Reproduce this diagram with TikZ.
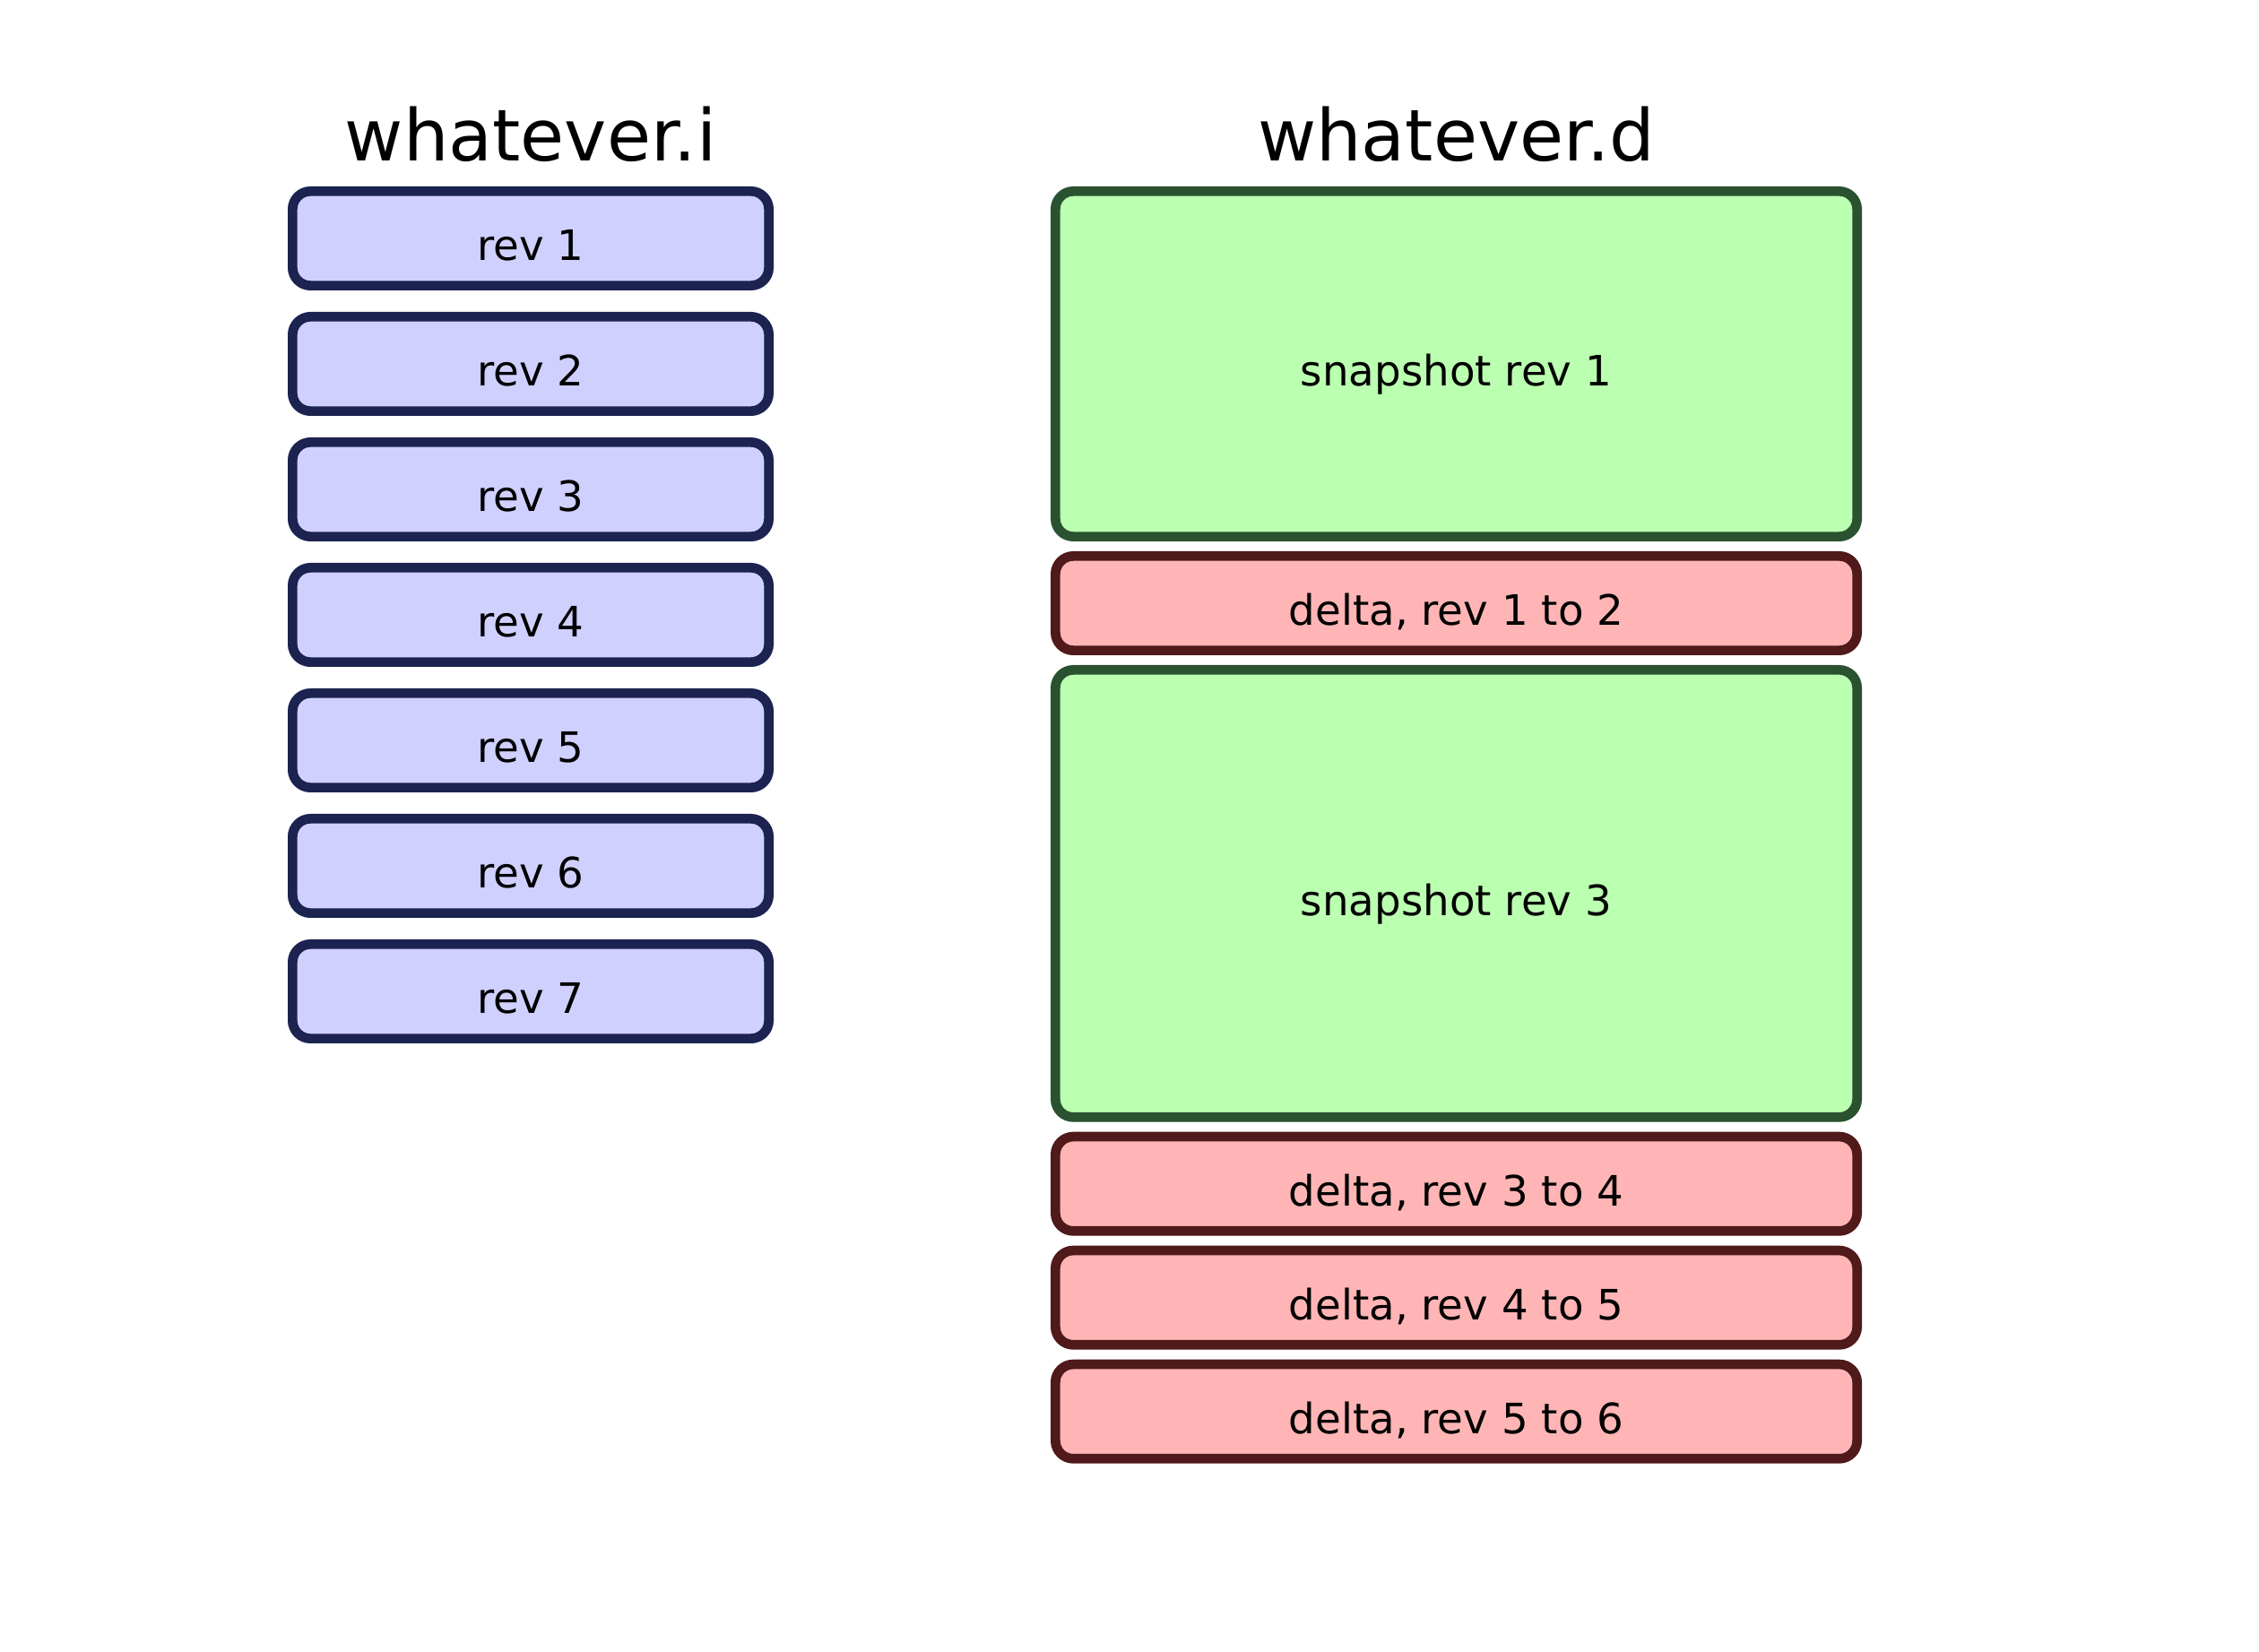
\documentclass[tikz,border=0pt]{standalone}
\usepackage{fontspec}
\setmainfont{DejaVu Sans}
\usetikzlibrary{positioning}

\definecolor{revfill}{RGB}{208,208,255}
\definecolor{revline}{RGB}{28,35,80}
\definecolor{snapfill}{RGB}{187,255,176}
\definecolor{snapline}{RGB}{42,82,48}
\definecolor{deltafill}{RGB}{255,181,181}
\definecolor{deltaline}{RGB}{80,25,26}

\tikzset{
  chunk/.style={draw, rounded corners=0.2cm, line width=0.107cm, inner sep=0,
    text height=0.5cm, text depth=0cm, font=\fontsize{13.3}{16}\selectfont},
  rev/.style={chunk, fill=revfill, draw=revline, minimum width=5.313cm, minimum height=1.053cm},
  snapshot/.style={chunk, fill=snapfill, draw=snapline, minimum width=8.943cm},
  delta/.style={chunk, fill=deltafill, draw=deltaline, minimum width=8.943cm, minimum height=1.053cm},
  filename/.style={font=\fontsize{22.7}{27}\selectfont},
}

\begin{document}
\begin{tikzpicture}[thick]
        \useasboundingbox (0, 0) rectangle (25.2, -18.43);

        % index file
        \node[rev, anchor=north] (rev-1) at (5.92, -2.08) {rev 1};
        \node[rev, below = 0.24 of rev-1] (rev-2) {rev 2};
        \node[rev, below = 0.24 of rev-2] (rev-3) {rev 3};
        \node[rev, below = 0.24 of rev-3] (rev-4) {rev 4};
        \node[rev, below = 0.24 of rev-4] (rev-5) {rev 5};
        \node[rev, below = 0.24 of rev-5] (rev-6) {rev 6};
        \node[rev, below = 0.24 of rev-6] (rev-7) {rev 7};
        \node[filename, above = 0.28 of rev-1.north, anchor=base] (index-t) {whatever.i};

        % data file
        \node[snapshot, minimum height=3.853cm, anchor=north] (snap-1) at (16.245, -2.08) {snapshot rev 1};
        \node[delta, below = 0.11 of snap-1] (delta-1-2) {delta, rev 1 to 2};
        \node[snapshot, minimum height=4.99cm, below = 0.11 of delta-1-2] (snap-3) {snapshot rev 3};
        \node[delta, below = 0.11 of snap-3] (delta-3-4) {delta, rev 3 to 4};
        \node[delta, below = 0.11 of delta-3-4] (delta-4-5) {delta, rev 4 to 5};
        \node[delta, below = 0.11 of delta-4-5] (delta-5-6) {delta, rev 5 to 6};
        \node[filename, above = 0.28 of snap-1.north, anchor=base] (data-t) {whatever.d};
      \end{tikzpicture}
\end{document}
